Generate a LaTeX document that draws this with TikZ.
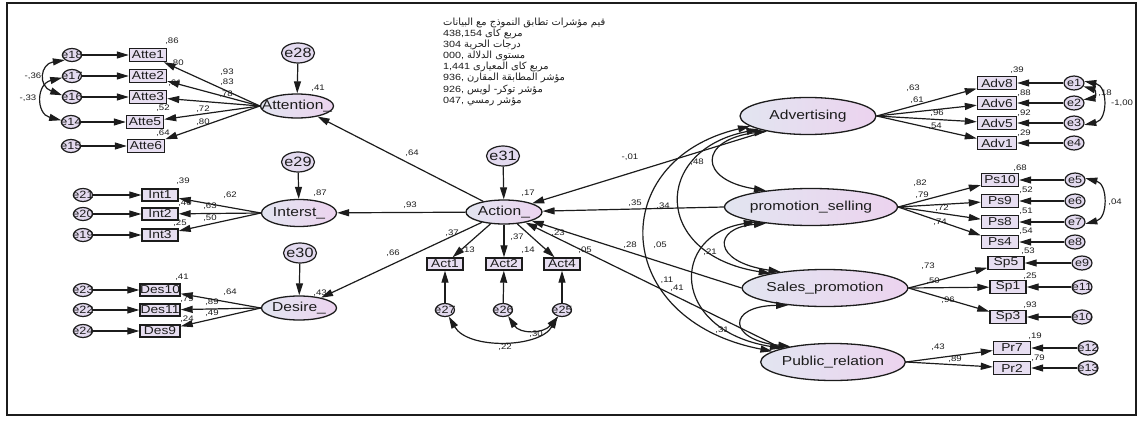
\documentclass[tikz,border=0pt]{standalone}
\usepackage{fontspec}
\setmainfont{Liberation Sans}[FakeStretch=1.2]
\newfontfamily\arabicfont[Script=Arabic,Scale=1.1]{DejaVu Sans}
\TeXXeTstate=1
\usetikzlibrary{arrows.meta,shapes.geometric}
\definecolor{shadeL}{HTML}{E2E5F0}
\definecolor{shadeR}{HTML}{ECD3EF}
\definecolor{obsfill}{HTML}{E7DEF1}
\definecolor{errfill}{HTML}{E3DAEF}
\definecolor{ink}{HTML}{1C1C1C}
\newcommand{\zw}[1]{\makebox[0pt]{#1}}
\newcommand{\ar}[1]{{\arabicfont\beginR #1\endR}}
\tikzset{
  latent/.style={ellipse, draw=ink, line width=1.3pt, left color=shadeL, right color=shadeR,
    inner sep=0pt, text=ink, font=\fontsize{13}{13}\selectfont},
  latsmall/.style={latent, minimum width=75pt, minimum height=25pt},
  latbig/.style={latent, minimum width=136pt, minimum height=37pt},
  obs/.style={rectangle, draw=ink, line width=1.4pt, fill=obsfill, minimum width=37pt,
    minimum height=13pt, inner sep=0pt, text=ink, font=\fontsize{11.5}{11.5}\selectfont},
  err/.style={ellipse, draw=ink, line width=1.2pt, fill=errfill, minimum width=19pt,
    minimum height=13pt, inner sep=0pt, text=ink, font=\fontsize{10.5}{10.5}\selectfont},
  errbig/.style={err, minimum width=33pt, minimum height=20pt, font=\fontsize{13.5}{13.5}\selectfont},
  coef/.style={inner sep=0pt, text=ink, font=\fontsize{8}{8}\selectfont},
  fitline/.style={anchor=base west, inner sep=0pt, text=ink, font=\fontsize{9}{9}\selectfont},
  reg/.style={draw=ink, line width=1.2pt, -{Triangle[length=12pt,width=7pt]}},
  cov/.style={draw=ink, line width=1.2pt, {Triangle[length=12pt,width=7pt]}-{Triangle[length=12pt,width=7pt]}},
}
\begin{document}
\begin{tikzpicture}[x=1pt, y=-1pt]
\useasboundingbox (0,0) rectangle (1139,420);
\draw[line width=2.2pt, ink] (7,3) rectangle (1136,415);

% ---------- fit indices ----------
\node[fitline] (fit1) at (443,25.5) {\ar{قيم مؤشرات تطابق النموذج مع البيانات}};
\node[fitline] (fit2) at (443,36.6) {438,154 \ar{مربع كاى}};
\node[fitline] (fit3) at (443,47.7) {304 \ar{درجات الحرية}};
\node[fitline] (fit4) at (443,58.8) {000, \ar{مستوى الدلالة}};
\node[fitline] (fit5) at (443,69.9) {1,441 \ar{مربع كاى المعيارى}};
\node[fitline] (fit6) at (443,81.0) {936, \ar{مؤشر المطابقة المقارن}};
\node[fitline] (fit7) at (443,92.1) {926, \ar{مؤشر توكر- لويس}};
\node[fitline] (fit8) at (443,103.2) {047, \ar{مؤشر رمسي}};

% ---------- Attention ----------
\node[errbig] (e28) at (298,53) {\zw{e28}};
\node[latsmall, minimum width=73pt, minimum height=24pt] (att) at (297,106) {\zw{Attention\_}};
\node[obs] (atte1) at (148,55) {\zw{Atte1}};
\node[obs] (atte2) at (148,76) {\zw{Atte2}};
\node[obs] (atte3) at (148,97) {\zw{Atte3}};
\node[obs] (atte5) at (145,122) {\zw{Atte5}};
\node[obs] (atte6) at (146,146) {\zw{Atte6}};
\node[err] (e18) at (72,55) {\zw{e18}};
\node[err] (e17) at (72,76) {\zw{e17}};
\node[err] (e16) at (72,97) {\zw{e16}};
\node[err] (e14) at (71,122) {\zw{e14}};
\node[err] (e15) at (71,146) {\zw{e15}};
\draw[reg] (e28) -- (att);
\foreach \b in {atte1,atte2,atte3,atte5,atte6} \draw[reg] (att.west) -- (\b);
\draw[reg] (e18) -- (atte1);
\draw[reg] (e17) -- (atte2);
\draw[reg] (e16) -- (atte3);
\draw[reg] (e14) -- (atte5);
\draw[reg] (e15) -- (atte6);
\draw[cov] (e18.215) .. controls (40,64) and (38,86) .. (e16.170);
\draw[cov] (e17.190) .. controls (36,84) and (36,114) .. (e14.170);

% ---------- Interst ----------
\node[errbig] (e29) at (298,162) {\zw{e29}};
\node[latsmall, minimum height=27pt] (int) at (299,213) {\zw{Interst\_}};
\node[obs, minimum width=36pt, minimum height=12pt] (int1) at (160,195) {\zw{Int1}};
\node[obs, minimum width=36pt, minimum height=12pt] (int2) at (160,214) {\zw{Int2}};
\node[obs, minimum width=36pt, minimum height=12pt] (int3) at (160,235) {\zw{Int3}};
\node[err] (e21) at (83,195) {\zw{e21}};
\node[err] (e20) at (83,214) {\zw{e20}};
\node[err] (e19) at (83,235) {\zw{e19}};
\draw[reg] (e29) -- (int);
\foreach \b in {int1,int2,int3} \draw[reg] (int.west) -- (\b);
\draw[reg] (e21) -- (int1);
\draw[reg] (e20) -- (int2);
\draw[reg] (e19) -- (int3);

% ---------- Desire ----------
\node[errbig] (e30) at (300,253) {\zw{e30}};
\node[latsmall, minimum height=24pt] (des) at (299,308) {\zw{Desire\_}};
\node[obs, minimum width=40pt, minimum height=12pt] (des10) at (160,290) {\zw{Des10}};
\node[obs, minimum width=40pt, minimum height=12pt] (des11) at (160,310) {\zw{Des11}};
\node[obs, minimum width=40pt, minimum height=12pt] (des9) at (160,331) {\zw{Des9}};
\node[err] (e23) at (83,290) {\zw{e23}};
\node[err] (e22) at (83,310) {\zw{e22}};
\node[err] (e24) at (83,331) {\zw{e24}};
\draw[reg] (e30) -- (des);
\foreach \b in {des10,des11,des9} \draw[reg] (des.west) -- (\b);
\draw[reg] (e23) -- (des10);
\draw[reg] (e22) -- (des11);
\draw[reg] (e24) -- (des9);

% ---------- Action ----------
\node[errbig] (e31) at (503,156) {\zw{e31}};
\node[latsmall, minimum width=76pt, minimum height=24pt] (act) at (504,212) {\zw{Action\_}};
\node[obs, minimum width=36pt, minimum height=12pt] (act1) at (445,264) {\zw{Act1}};
\node[obs, minimum width=36pt, minimum height=12pt] (act2) at (504,264) {\zw{Act2}};
\node[obs, minimum width=36pt, minimum height=12pt] (act4) at (562,264) {\zw{Act4}};
\node[err] (e27) at (445,310) {\zw{e27}};
\node[err] (e26) at (503,310) {\zw{e26}};
\node[err] (e25) at (562,310) {\zw{e25}};
\draw[reg] (e31) -- (act);
\draw[reg] (act) -- (att);
\draw[reg] (act) -- (int);
\draw[reg] (act) -- (des);
\draw[reg] (act) -- (act1);
\draw[reg] (act) -- (act2);
\draw[reg] (act) -- (act4);
\draw[reg] (e27) -- (act1);
\draw[reg] (e26) -- (act2);
\draw[reg] (e25) -- (act4);
\draw[cov] (e27.300) .. controls (468,350) and (540,348) .. (e25.235);
\draw[cov] (e26.310) .. controls (520,334) and (543,334) .. (e25.240);

% ---------- marketing mix ----------
\node[latbig] (adv) at (808,116) {Advertising};
\node[latbig] (ps) at (811,207) {promotion\_selling};
\node[latbig] (sp) at (825,288) {Sales\_promotion};
\node[latbig] (pr) at (833,362) {Public\_relation};

\draw[reg] (adv.200) -- (act);
\draw[reg] (ps.west) -- (act);
\draw[reg] (sp.west) -- (act);
\draw[reg] (pr.165) -- (act);

\draw[cov] (adv.200) .. controls (698,140) and (698,180) .. (ps.160);
\draw[cov] (adv.195) .. controls (652,150) and (652,255) .. (sp.165);
\draw[cov] (adv.190) .. controls (605,160) and (610,320) .. (pr.170);
\draw[cov] (ps.200) .. controls (712,228) and (712,262) .. (sp.160);
\draw[cov] (ps.195) .. controls (670,235) and (670,330) .. (pr.165);
\draw[cov] (sp.205) .. controls (726,306) and (728,340) .. (pr.160);

% Advertising indicators
\foreach \n/\y in {8/83,6/103,5/123,1/143}
  \node[obs, minimum width=39pt] (adv\n) at (997,\y) {\zw{Adv\n}};
\foreach \n/\y in {1/83,2/103,3/123,4/143}
  \node[err, minimum width=20pt, minimum height=14pt] (e\n) at (1074,\y) {\zw{e\n}};
\foreach \b in {adv8,adv6,adv5,adv1} \draw[reg] (adv.east) -- (\b);
\draw[reg] (e1) -- (adv8);
\draw[reg] (e2) -- (adv6);
\draw[reg] (e3) -- (adv5);
\draw[reg] (e4) -- (adv1);
\draw[cov] (e1.10) .. controls (1108,86) and (1108,120) .. (e3.350);
\draw[cov] (e1.340) .. controls (1096,90) and (1096,98) .. (e2.20);

% promotion_selling indicators
\foreach \n/\y in {10/180,9/201,8/222,4/242}
  \node[obs] (ps\n) at (1000,\y) {\zw{Ps\n}};
\foreach \n/\y in {5/180,6/201,7/222,8/242}
  \node[err, minimum width=20pt, minimum height=14pt] (e\n) at (1075,\y) {\zw{e\n}};
\foreach \b in {ps10,ps9,ps8,ps4} \draw[reg] (ps.east) -- (\b);
\draw[reg] (e5) -- (ps10);
\draw[reg] (e6) -- (ps9);
\draw[reg] (e7) -- (ps8);
\draw[reg] (e8) -- (ps4);
\draw[cov] (e5.10) .. controls (1108,184) and (1108,218) .. (e7.350);

% Sales_promotion indicators
\node[obs, minimum width=36pt] (sp5) at (1006,263) {\zw{Sp5}};
\node[obs, minimum width=36pt] (sp1) at (1008,287) {\zw{Sp1}};
\node[obs, minimum width=36pt] (sp3) at (1008,317) {\zw{Sp3}};
\node[err, minimum width=20pt, minimum height=14pt] (e9) at (1082,263) {\zw{e9}};
\node[err, minimum width=20pt, minimum height=14pt] (e11) at (1082,287) {\zw{e11}};
\node[err, minimum width=20pt, minimum height=14pt] (e10) at (1082,317) {\zw{e10}};
\foreach \b in {sp5,sp1,sp3} \draw[reg] (sp.east) -- (\b);
\draw[reg] (e9) -- (sp5);
\draw[reg] (e11) -- (sp1);
\draw[reg] (e10) -- (sp3);

% Public_relation indicators
\node[obs] (pr7) at (1012,348) {\zw{Pr7}};
\node[obs] (pr2) at (1012,368) {\zw{Pr2}};
\node[err, minimum width=20pt, minimum height=14pt] (e12) at (1088,348) {\zw{e12}};
\node[err, minimum width=20pt, minimum height=14pt] (e13) at (1088,368) {\zw{e13}};
\foreach \b in {pr7,pr2} \draw[reg] (pr.east) -- (\b);
\draw[reg] (e12) -- (pr7);
\draw[reg] (e13) -- (pr2);

% ---------- estimates ----------
\foreach \t/\x/\y in {
  {,86}/172/41, {,80}/177/63, {,61}/175/83, {,52}/163/108, {,64}/163/133,
  {,93}/227/72, {,83}/227/82, {,78}/226/94, {,72}/203/109, {,80}/203/122,
  {-,36}/33/76, {-,33}/28/98, {,41}/318/88,
  {,39}/183/181, {,62}/230/195, {,40}/185/203, {,63}/210/206, {,25}/180/223, {,50}/210/218, {,87}/320/193,
  {,41}/182/277, {,64}/230/292, {,79}/187/299, {,89}/212/302, {,24}/187/319, {,49}/212/313, {,43}/320/293,
  {,17}/528/193, {,64}/412/153, {,93}/410/205, {,66}/393/253,
  {,37}/452/233, {,13}/468/250, {,37}/517/237, {,14}/528/250, {,23}/558/233, {,05}/585/250,
  {,22}/505/347, {,30}/536/334,
  {-,01}/630/157, {,35}/635/203, {,34}/663/206, {,48}/697/162, {,28}/630/245, {,05}/660/245,
  {,21}/710/252, {,11}/667/280, {,41}/677/288, {,31}/722/330,
  {,63}/913/88, {,61}/917/100, {,96}/937/113, {,54}/935/126,
  {,39}/1017/70, {,88}/1024/93, {,92}/1024/113, {,29}/1024/133, {,18}/1105/93, {-1,00}/1122/103,
  {,82}/920/183, {,79}/922/195, {,72}/942/208, {,74}/940/222,
  {,68}/1020/168, {,52}/1026/190, {,51}/1026/211, {,54}/1026/231, {,04}/1115/202,
  {,73}/928/266, {,50}/933/281, {,96}/948/300, {,53}/1028/251, {,25}/1030/276, {,93}/1030/305,
  {,43}/938/347, {,89}/955/359, {,19}/1035/336, {,79}/1038/358}
  \node[coef] at (\x,\y) {\t};
\end{tikzpicture}
\end{document}
